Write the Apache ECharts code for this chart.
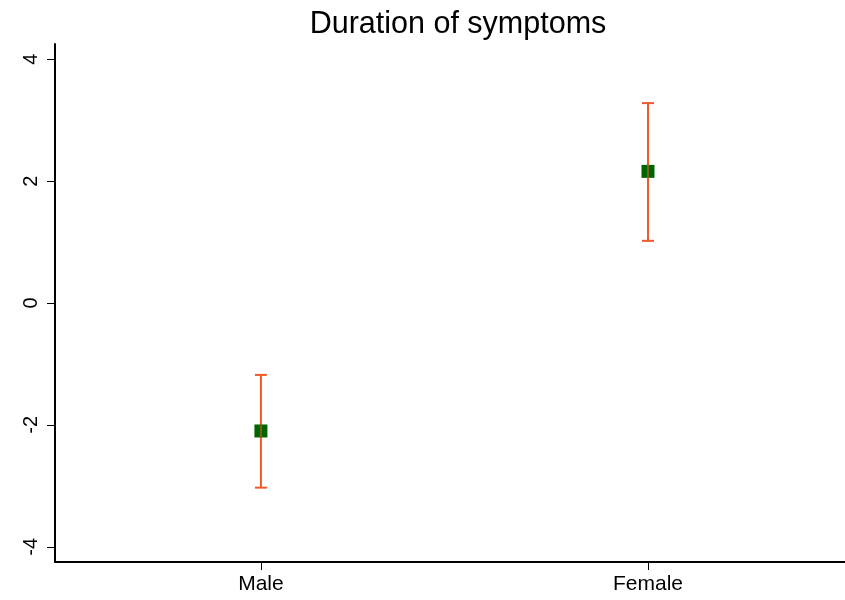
<!DOCTYPE html>
<html>
<head>
<meta charset="utf-8">
<title>Duration of symptoms</title>
<script src="https://cdn.jsdelivr.net/npm/echarts@6/dist/echarts.min.js"></script>
<style>
  html, body { margin: 0; padding: 0; background: #ffffff; }
  #chart { width: 845px; height: 600px; }
</style>
</head>
<body>
<div id="chart"></div>
<script>
// Group labels and their positions on the x scale
const groups = ['Male', 'Female'];
const groupPos = [1, 2];

// Estimated effect with lower / upper confidence limits
const means = [-2.10, 2.16];
const lower = [-3.03, 1.02];
const upper = [-1.18, 3.28];

// Y axis ticks
const yTicks = [-4, -2, 0, 2, 4];

const FONT = '"Liberation Sans", Arial, sans-serif';
const chart = echarts.init(document.getElementById('chart'), null, { renderer: 'canvas' });

const ciData = groupPos.map((x, i) => [x, lower[i], upper[i]]);
const pointData = groupPos.map((x, i) => [x, means[i]]);

chart.setOption({
  animation: false,
  backgroundColor: '#ffffff',
  title: {
    text: 'Duration of symptoms',
    left: 453,
    textAlign: 'center',
    top: 4,
    textStyle: { fontFamily: FONT, fontSize: 30.5, fontWeight: 'normal', color: '#000000' }
  },
  grid: { left: 55, right: 0, top: 44, bottom: 38 },
  xAxis: {
    type: 'value',
    min: 0.468,
    max: 2.509,
    splitLine: { show: false },
    axisLine: { show: true, onZero: false, lineStyle: { color: '#000000', width: 2 } },
    axisTick: { show: true, length: 8, customValues: groupPos, lineStyle: { color: '#000000', width: 1 } },
    axisLabel: {
      customValues: groupPos,
      formatter: v => groups[groupPos.indexOf(Math.round(v))] || '',
      margin: 12,
      fontFamily: FONT, fontSize: 21, color: '#000000'
    }
  },
  yAxis: {
    type: 'value',
    min: -4.25,
    max: 4.25,
    splitLine: { show: false },
    axisLine: { show: true, onZero: false, lineStyle: { color: '#000000', width: 2 } },
    axisTick: { show: true, length: 8, customValues: yTicks, lineStyle: { color: '#000000', width: 1 } },
    axisLabel: {
      customValues: yTicks,
      rotate: 90,
      margin: 14,
      fontFamily: FONT, fontSize: 20, color: '#000000'
    }
  },
  series: [
    {
      type: 'custom',
      name: 'CI',
      data: ciData,
      z: 2,
      renderItem: function (params, api) {
        const x = api.value(0);
        const lo = api.coord([x, api.value(1)]);
        const hi = api.coord([x, api.value(2)]);
        const half = 6;
        const style = { stroke: '#f05a28', lineWidth: 2 };
        return {
          type: 'group',
          children: [
            { type: 'line', shape: { x1: lo[0], y1: lo[1], x2: hi[0], y2: hi[1] }, style: style },
            { type: 'line', shape: { x1: lo[0] - half, y1: lo[1], x2: lo[0] + half, y2: lo[1] }, style: style },
            { type: 'line', shape: { x1: hi[0] - half, y1: hi[1], x2: hi[0] + half, y2: hi[1] }, style: style }
          ]
        };
      }
    },
    {
      type: 'scatter',
      name: 'Estimate',
      data: pointData,
      symbol: 'rect',
      symbolSize: 13,
      z: 3,
      itemStyle: { color: '#006400', opacity: 1 }
    },
    {
      type: 'custom',
      name: 'CI overlay',
      data: ciData,
      z: 4,
      silent: true,
      renderItem: function (params, api) {
        const x = api.value(0);
        const p = api.coord([x, means[params.dataIndex]]);
        return {
          type: 'line',
          shape: { x1: p[0], y1: p[1] - 6.5, x2: p[0], y2: p[1] + 6.5 },
          style: { stroke: '#f05a28', lineWidth: 2, opacity: 0.55 }
        };
      }
    }
  ]
});
</script>
</body>
</html>
